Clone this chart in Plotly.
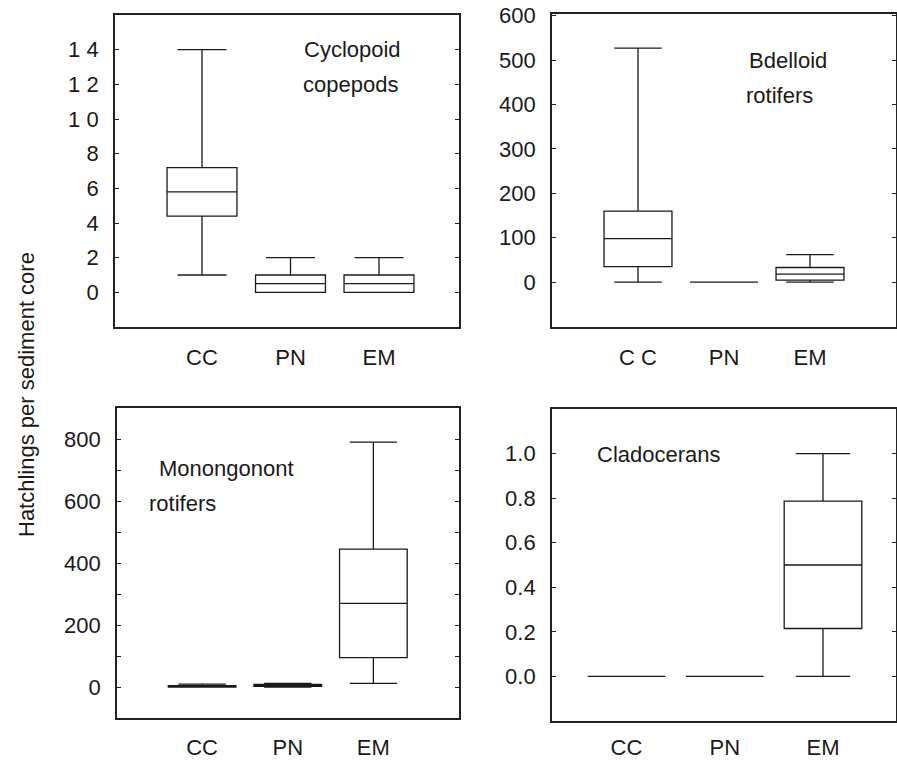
import plotly.graph_objects as go

W, H = 897, 760
FONT = "Liberation Sans, Arial, Helvetica, sans-serif"
INK = "#1a1a1a"

groups = ["CC", "PN", "EM"]

# Panel 1: Cyclopoid copepods  (lower whisker, Q1, median, Q3, upper whisker)
cyc_low = [1.0, 0.0, 0.0]
cyc_q1 = [4.4, 0.0, 0.0]
cyc_med = [5.8, 0.5, 0.5]
cyc_q3 = [7.2, 1.0, 1.0]
cyc_high = [14.0, 2.0, 2.0]

# Panel 2: Bdelloid rotifers
bde_low = [0.0, 0.0, 0.0]
bde_q1 = [35.0, 0.0, 4.5]
bde_med = [98.0, 0.0, 18.0]
bde_q3 = [160.0, 0.0, 33.0]
bde_high = [527.0, 0.0, 62.0]

# Panel 3: Monogonont rotifers
mon_low = [0.0, 0.0, 12.0]
mon_q1 = [0.0, 2.0, 95.0]
mon_med = [2.0, 5.0, 270.0]
mon_q3 = [4.0, 8.0, 445.0]
mon_high = [9.0, 12.0, 790.0]

# Panel 4: Cladocerans
cla_low = [0.0, 0.0, 0.0]
cla_q1 = [0.0, 0.0, 0.215]
cla_med = [0.0, 0.0, 0.5]
cla_q3 = [0.0, 0.0, 0.787]
cla_high = [0.0, 0.0, 1.0]

panels = [
    dict(low=cyc_low, q1=cyc_q1, med=cyc_med, q3=cyc_q3, high=cyc_high,
         ticklabels=["CC", "PN", "EM"]),
    dict(low=bde_low, q1=bde_q1, med=bde_med, q3=bde_q3, high=bde_high,
         ticklabels=["C C", "PN", "EM"]),
    dict(low=mon_low, q1=mon_q1, med=mon_med, q3=mon_q3, high=mon_high,
         ticklabels=["CC", "PN", "EM"]),
    dict(low=cla_low, q1=cla_q1, med=cla_med, q3=cla_q3, high=cla_high,
         ticklabels=["CC", "PN", "EM"]),
]

y_ticks = [
    [0, 2, 4, 6, 8, 10, 12, 14],
    [0, 100, 200, 300, 400, 500, 600],
    [0, 100, 200, 300, 400, 500, 600, 700, 800],
    [0.0, 0.2, 0.4, 0.6, 0.8, 1.0],
]
y_ticktext = [
    ["0", "2", "4", "6", "8", "1 0", "1 2", "1 4"],
    ["0", "100", "200", "300", "400", "500", "600"],
    ["0", "", "200", "", "400", "", "600", "", "800"],
    ["0.0", "0.2", "0.4", "0.6", "0.8", "1.0"],
]
y_ranges = [[-2, 16], [-101, 604], [-100, 900], [-0.2, 1.2]]

# pixel frames of each panel: (left, right, top, bottom)
frames = [(115, 459, 15, 327), (552, 896, 14, 327), (117, 459, 408, 718), (552, 896, 409, 721)]
x_ranges = [[-0.983, 2.904], [-1.0, 3.0], [-0.994, 3.0], [-0.758, 2.743]]
x_standoff = [10, 10, 9, 6]

fig = go.Figure()
layout = {}
for i, p in enumerate(panels):
    n = "" if i == 0 else str(i + 1)
    fig.add_trace(go.Box(
        x=groups, lowerfence=p["low"], q1=p["q1"], median=p["med"], q3=p["q3"],
        upperfence=p["high"], xaxis="x" + n, yaxis="y" + n,
        width=0.79, whiskerwidth=0.7,
        line=dict(color=INK, width=1.3), fillcolor="rgba(255,255,255,0)",
        showlegend=False, boxpoints=False, hoverinfo="skip",
    ))
    l, r, t, b = frames[i]
    layout["xaxis" + n] = dict(
        domain=[l / W, r / W], anchor="y" + n, type="category",
        categoryorder="array", categoryarray=groups, range=x_ranges[i],
        tickvals=groups, ticktext=p["ticklabels"], ticks="",
        showline=True, mirror=True, linecolor="#222", linewidth=1.8,
        showgrid=False, zeroline=False, ticklabelstandoff=x_standoff[i],
        automargin=False,
        tickfont=dict(family=FONT, size=22, color=INK),
    )
    layout["yaxis" + n] = dict(
        domain=[1 - b / H, 1 - t / H], anchor="x" + n, range=y_ranges[i],
        tickvals=y_ticks[i], ticktext=y_ticktext[i],
        ticks="inside", ticklen=4, tickwidth=1, tickcolor="#222",
        showline=True, mirror="ticks", linecolor="#222", linewidth=1.8,
        showgrid=False, zeroline=False, ticklabelstandoff=10, automargin=False,
        tickfont=dict(family=FONT, size=22, color=INK),
    )

def ann(text, x, y, xanchor="center", size=22, angle=0):
    return dict(text=text, x=x / W, y=1 - y / H, xref="paper", yref="paper",
                xanchor=xanchor, yanchor="middle", showarrow=False, textangle=angle,
                font=dict(family=FONT, size=size, color=INK))

annotations = [
    ann("Cyclopoid", 352, 50),
    ann("copepods", 350, 84),
    ann("Bdelloid", 788, 60),
    ann("rotifers", 779, 95),
    ann("Monongonont", 157, 468, xanchor="left"),
    ann("rotifers", 147, 503, xanchor="left"),
    ann("Cladocerans", 595, 454, xanchor="left"),
    ann("Hatchlings per sediment core", 26, 395, angle=-90),
]

fig.update_layout(
    width=W, height=H, margin=dict(l=0, r=0, t=0, b=0, autoexpand=False),
    paper_bgcolor="white", plot_bgcolor="white",
    annotations=annotations, showlegend=False,
    **layout,
)

fig.write_html(
    "out.html",
    config={"displayModeBar": False},
    post_script="document.body.style.margin='0';document.body.style.padding='0';"
                "document.body.style.overflow='hidden';"
                "document.documentElement.style.overflow='hidden';",
)
